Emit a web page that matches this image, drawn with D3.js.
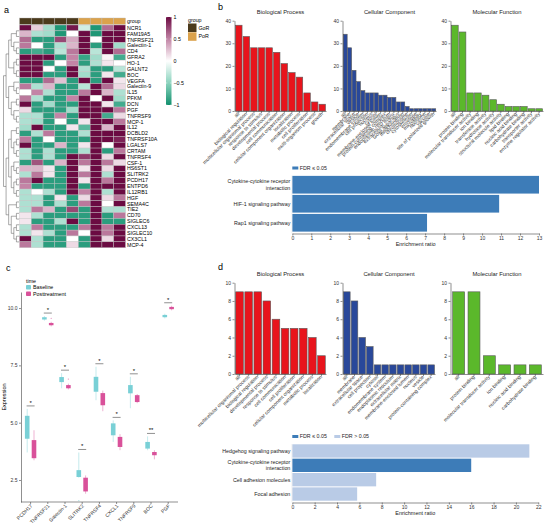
<!DOCTYPE html>
<html><head><meta charset="utf-8">
<script src="https://cdn.jsdelivr.net/npm/d3@7"></script>
<style>
body{margin:0;background:#fff}
svg{font-family:"Liberation Sans",Arial,sans-serif}
.ax path,.ax line{stroke:#444;stroke-width:0.6}
.ax text{fill:#333;font-size:5px}
</style></head><body>
<svg id="fig" width="546" height="530"></svg>
<script>
// ---------- panel a : heatmap
const genes = ["NCR1","FAM19A5","TNFRSF21","Galectin-1","CD4","GFRA2","HO-1","GALNT2","BOC","VEGFA",
  "Galectin-9","IL15","PFKM","DCN","PGF","TNFRSF9","MCP-1","IL12","DCBLD2","TNFRSF10A","LGALS7","CRTAM",
  "TNFRSF4","CSF-1","HS6ST1","SLITRK2","PCDH17","ENTPD6","IL12RB1","HGF","SEMA4C","TIE2","CD70",
  "SIGLEC6","CXCL13","SIGLEC10","CX3CL1","MCP-4"];
const groups = ["GoR","GoR","GoR","GoR","GoR","PoR","PoR","PoR","PoR"];
const heat = [
  [1,0.2,-0.4,-0.95,0.95,-0.2,-0.95,0.6,1],
  [0.3,-0.35,-0.4,-0.95,0,1,-0.95,1,1],
  [0.6,-0.9,-0.9,0.75,0.35,1,0,1,1],
  [0.55,0,-0.9,-0.35,0.3,1,-0.9,1,-0.4],
  [-0.9,-0.8,-0.9,-0.3,0.55,1,-0.3,1,0.6],
  [1,1,1,-0.9,0.5,-0.85,-0.4,0.05,-0.8],
  [1,1,-0.9,0,0.5,-0.9,-0.35,0.1,0],
  [1,1,0,-0.9,1,-0.35,-0.9,-0.9,-0.3],
  [1,1,-0.9,-0.9,1,-0.4,-0.9,0.1,-0.8],
  [-0.9,-0.9,0.6,0.25,-0.9,1,-0.9,1,0.1],
  [0.55,-0.35,0.3,-0.9,-0.9,-0.3,1,0.6,0.15],
  [0,0.5,-0.35,-0.9,-0.9,0.55,1,0.3,-0.35],
  [0.55,-0.35,-0.9,-0.9,0.5,1,0,1,-0.4],
  [1,-0.9,-0.4,-0.9,-0.9,1,1,0.1,-0.8],
  [0.15,-0.9,-0.9,-0.9,-0.4,1,1,1,0.55],
  [-0.35,-0.35,-0.9,0.5,-0.9,1,1,-0.8,0.15],
  [-0.35,-0.4,-0.9,0,-0.9,0.1,1,1,0.55],
  [-0.4,1,-0.9,-0.9,0.1,-0.7,1,0.3,1],
  [-0.9,-0.35,0.55,-0.9,-0.9,-0.35,1,1,1],
  [0.55,-0.9,0,-0.9,-0.9,-0.9,1,1,0.9],
  [1,-0.9,-0.9,0.3,-0.9,0.1,1,0,1],
  [-0.35,-0.9,-0.35,-0.9,-0.9,-0.35,1,-0.9,0.55],
  [-0.35,-0.9,-0.35,-0.9,1,0.8,1,0.15,1],
  [-0.9,0.7,-0.9,0.3,1,0.55,1,0.55,0.15],
  [0.3,0.3,0.1,-0.9,1,0.1,1,0.15,1],
  [-0.35,0.55,0.1,-0.9,1,0.55,1,-0.35,1],
  [0.55,1,-0.9,-0.9,1,0.1,1,0.55,1],
  [0.5,-0.9,-0.9,-0.9,1,-0.9,1,1,1],
  [-0.35,0,-0.35,-0.9,1,0.5,1,-0.35,1],
  [-0.35,-0.35,-0.9,0.1,-0.9,0.15,1,0.15,0.55],
  [-0.35,-0.35,-0.9,-0.35,-0.9,0.55,1,0,1],
  [-0.35,0.55,0.3,-0.9,0.75,-0.9,1,-0.35,-0.35],
  [0.1,-0.35,-0.9,-0.9,-0.9,-0.9,1,-0.9,0.55],
  [0.1,-0.9,-0.9,-0.35,1,-0.9,1,-0.9,-0.9],
  [-0.35,0.55,-0.9,-0.9,-0.9,0.55,1,0.55,1],
  [-0.35,0.1,-0.35,-0.9,0.55,0,1,0.55,1],
  [1,-0.35,-0.9,-0.9,0,-0.9,1,0.15,1],
  [0.55,-0.35,-0.9,-0.9,0.15,-0.9,1,1,1]
];
// row clustering (nested lists, leaves in row order)
const geneTree = [
  [
    [[["NCR1","FAM19A5"],["TNFRSF21",["Galectin-1","CD4"]]], [["GFRA2","HO-1"],["GALNT2","BOC"]]],
    [["VEGFA",["Galectin-9","IL15"]], [["PFKM","DCN"],["PGF",["TNFRSF9","MCP-1"]]]]
  ],
  [
    [[["IL12","DCBLD2"],[["TNFRSF10A","LGALS7"],["CRTAM","TNFRSF4"]]],
     [["CSF-1",["HS6ST1","SLITRK2"]],[["PCDH17","ENTPD6"],["IL12RB1","HGF"]]]],
    [["SEMA4C","TIE2"],[["CD70","SIGLEC6"],[["CXCL13","SIGLEC10"],["CX3CL1","MCP-4"]]]]
  ]
];
const groupNames = ["GoR","PoR"];
const groupColors = ["#4b3a1c","#dba24c"];
const heatTicks = [1,0.5,0,-0.5,-1];

// ---------- panel b : GO slim + KEGG
const bBpTerms = ["all","biological regulation","multicellular organismal process","response to stimulus",
  "developmental process","cell communication","cellular component organization","localization",
  "metabolic process","cell proliferation","multi-organism process","growth"];
const bBpCounts = [38,33,28,28,28,26,21,17,15,8,4,3];
const bCcTerms = ["all","membrane","extracellular space","vesicle","endomembrane system","cell projection",
  "nucleus","cytosol","membrane-enclosed lumen","protein-containing complex","endoplasmic reticulum",
  "extracellular matrix","Golgi apparatus","mitochondrion","chromosome","cytoskeleton","envelope",
  "microbody","ribosome","vacuole","site of polarized growth"];
const bCcCounts = [34,28,18,13,9,8,8,8,7,7,6,6,4,4,2,1,1,1,1,1,1];
const bMfTerms = ["all","protein binding","molecular transducer activity","ion binding","transferase activity",
  "hydrolase activity","structural molecule activity","lipid binding","nucleic acid binding",
  "carbohydrate binding","transporter activity","enzyme regulator activity"];
const bMfCounts = [38,35,8,8,7,5,3,2,2,2,1,1];
const bKegg = ["Cytokine-cytokine receptor\ninteraction","HIF-1 signaling pathway","Rap1 signaling pathway"];
const bKeggRatio = [13.0,10.9,7.1];
const bKeggSig = [true,true,true];

// ---------- panel c : boxplots
const cGenes = ["PCDH17","TNFRSF21","Galectin-1","SLITRK2","TNFRSF4","CXCL1","TNFRSF9","BOC","PGF"];
// [low whisker, q1, median, q3, high whisker]
const cBase = [[3.7,4.3,4.8,5.3,5.6],[9.45,9.5,9.55,9.6,9.65],[6.5,6.77,6.88,6.99,7.16],
  [2.6,2.63,2.8,2.93,3.7],[5.98,6.35,6.7,7.0,7.44],[4.16,4.45,4.7,4.97,5.1],
  [5.63,6.28,6.45,6.64,7.0],[3.8,3.87,4.0,4.16,4.4],[9.55,9.6,9.65,9.7,9.75]];
const cPost = [[3.36,3.45,3.9,4.24,4.67],[9.2,9.25,9.3,9.35,9.4],[6.45,6.5,6.55,6.64,6.7],
  [1.9,2.0,2.3,2.6,2.7],[5.5,5.76,6.0,6.29,6.4],[3.8,3.94,4.2,4.38,4.5],
  [5.85,5.9,6.0,6.2,6.25],[3.4,3.58,3.65,3.72,3.8],[9.9,9.95,10.0,10.05,10.1]];
const cOutBase = [[],[],[],[1.6],[],[],[],[],[]];
const cOutPost = [[],[9.55],[6.9],[],[],[],[],[],[]];
const cSig = ["*","*","*","*","*","*","*","**","*"];
const cTimes = ["Baseline","Posttreatment"];
const cColors = ["#79d0d6","#d9519a"];
const cTicks = [2.5,5.0,7.5,10.0];

// ---------- panel d : GO slim + KEGG
const dBpTerms = ["all","multicellular organismal process","biological regulation","developmental process",
  "response to stimulus","cell communication","cell proliferation","cellular component organization",
  "metabolic process","localization"];
const dBpCounts = [9,9,9,8,6,5,5,5,4,2];
const dCcTerms = ["all","membrane","extracellular space","cell projection","cytosol","endomembrane system",
  "endoplasmic reticulum","extracellular matrix","membrane-enclosed lumen","nucleus","vesicle",
  "protein-containing complex"];
const dCcCounts = [9,8,4,3,1,1,1,1,1,1,1,1];
const dMfTerms = ["all","protein binding","molecular transducer activity","ion binding","nucleic acid binding",
  "carbohydrate binding"];
const dMfCounts = [9,9,2,1,1,1];
const dKegg = ["Hedgehog signaling pathway","Cytokine-cytokine receptor\ninteraction","Cell adhesion molecules","Focal adhesion"];
const dKeggRatio = [21.2,16.0,7.5,5.8];
const dKeggSig = [false,true,false,false];

const svg = d3.select("#fig");

function panelLetter(t, x, y) {
  svg.append("text").attr("x", x).attr("y", y).attr("font-size", 9).text(t);
}

// ================= panel a
panelLetter("a", 4, 13);
const rowH = 5.86, hx0 = 19.5, hy0 = 25;
const hx = d3.scaleBand().domain(d3.range(groups.length)).range([hx0, 125.5]);
const hy = d3.scaleBand().domain(genes).range([hy0, hy0 + rowH * genes.length]);
const heatColor = d3.scaleLinear().domain([-1, -0.5, 0, 0.5, 1])
  .range(["#13906e", "#8bd3be", "#ffffff", "#c384a6", "#6b0b42"]).clamp(true);

const ga = svg.append("g");
ga.selectAll("rect.grp").data(groups).join("rect")
  .attr("x", (d, i) => hx(i)).attr("y", 18).attr("width", hx.bandwidth()).attr("height", 6.5)
  .attr("fill", d => groupColors[groupNames.indexOf(d)]).attr("stroke", "#bbb").attr("stroke-width", 0.4);
ga.append("text").attr("x", 127).attr("y", 23.3).attr("font-size", 5.3).text("group");

const cells = genes.flatMap((g, i) => heat[i].map((v, j) => ({ g, j, v })));
ga.selectAll("rect.cell").data(cells).join("rect")
  .attr("x", d => hx(d.j)).attr("y", d => hy(d.g))
  .attr("width", hx.bandwidth()).attr("height", hy.bandwidth())
  .attr("fill", d => heatColor(d.v)).attr("stroke", "#c4c4c4").attr("stroke-width", 0.4);
ga.selectAll("text.gene").data(genes).join("text")
  .attr("x", 127).attr("y", d => hy(d) + hy.bandwidth() / 2).attr("dy", "0.35em")
  .attr("font-size", 5.3).text(d => d);

// dendrogram
const root = d3.hierarchy(geneTree, d => Array.isArray(d) ? d : null);
d3.cluster().size([rowH * (genes.length - 1), 15.5]).separation(() => 1)(root);
const dg = ga.append("g").attr("transform", `translate(3.5,${hy0 + rowH / 2})`);
dg.selectAll("path").data(root.links()).join("path")
  .attr("d", l => `M${l.source.y},${l.source.x}V${l.target.x}H${l.target.y}`)
  .attr("fill", "none").attr("stroke", "#555").attr("stroke-width", 0.5);

// colour bar
const cbY = d3.scaleLinear().domain([1, -1]).range([17, 105]);
const defs = svg.append("defs");
const lg = defs.append("linearGradient").attr("id", "hmgrad").attr("x1", 0).attr("x2", 0).attr("y1", 0).attr("y2", 1);
d3.range(0, 1.001, 0.1).forEach(t => lg.append("stop").attr("offset", t).attr("stop-color", heatColor(1 - 2 * t)));
ga.append("rect").attr("x", 166).attr("y", 17).attr("width", 5.5).attr("height", 88).attr("fill", "url(#hmgrad)");
ga.selectAll("line.cbt").data(heatTicks).join("line")
  .attr("x1", 166).attr("x2", 167.3).attr("y1", d => cbY(d)).attr("y2", d => cbY(d)).attr("stroke", "#fff").attr("stroke-width", 0.5);
ga.selectAll("line.cbt2").data(heatTicks).join("line")
  .attr("x1", 170.2).attr("x2", 171.5).attr("y1", d => cbY(d)).attr("y2", d => cbY(d)).attr("stroke", "#fff").attr("stroke-width", 0.5);
ga.selectAll("text.cbl").data(heatTicks).join("text")
  .attr("x", 173.5).attr("y", d => cbY(d)).attr("dy", "0.35em").attr("font-size", 5.3)
  .text(d => d3.format("")(d).replace("-", "\u2212"));
// group legend
ga.append("text").attr("x", 188).attr("y", 22).attr("font-size", 5.3).text("group");
groupNames.forEach((g, i) => {
  ga.append("rect").attr("x", 188).attr("y", 23.5 + i * 8.8).attr("width", 8.5).attr("height", 8.5).attr("fill", groupColors[i]);
  ga.append("text").attr("x", 198.5).attr("y", 27.8 + i * 8.8).attr("dy", "0.35em").attr("font-size", 5.3).text(g);
});

// ================= GO bar chart helper
function goChart(o) {
  const g = svg.append("g");
  const x = d3.scaleBand().domain(o.terms).range([o.x0, o.x1]).paddingInner(o.pad).paddingOuter(o.pad / 2);
  const y = d3.scaleLinear().domain([0, o.max]).range([o.yBot, o.yTop]);
  g.selectAll("rect").data(o.terms).join("rect")
    .attr("x", d => x(d)).attr("width", x.bandwidth())
    .attr("y", (d, i) => y(o.counts[i])).attr("height", (d, i) => o.yBot - y(o.counts[i]))
    .attr("fill", o.fill).attr("stroke", "#5a5a5a").attr("stroke-width", 0.6);
  g.append("g").attr("class", "ax").attr("transform", `translate(${o.x0 - 0.5},0)`)
    .call(d3.axisLeft(y).tickValues(o.ticks).tickSize(2).tickPadding(1.5).tickSizeOuter(0));
  const xa = g.append("g").attr("class", "ax").attr("transform", `translate(0,${o.yBot})`)
    .call(d3.axisBottom(x).tickSize(2).tickSizeOuter(0));
  xa.selectAll("text").attr("x", -1.5).attr("y", 3).attr("dy", 0).attr("font-size", 4.6)
    .attr("transform", "rotate(-45)").style("text-anchor", "end");
  g.append("text").attr("x", (o.x0 + o.x1) / 2).attr("y", o.yTop - 7).attr("text-anchor", "middle")
    .attr("font-size", 5.8).attr("fill", "#222").text(o.title);
}

function keggChart(o) {
  const g = svg.append("g");
  const x = d3.scaleLinear().domain([0, o.max]).range([o.x0, o.x1]);
  const y = d3.scaleBand().domain(o.terms).range([o.yTop, o.yBot]).paddingInner(0.07).paddingOuter(0.02);
  g.selectAll("rect").data(o.terms).join("rect")
    .attr("x", x(0)).attr("y", d => y(d)).attr("height", y.bandwidth())
    .attr("width", (d, i) => x(o.ratio[i]) - x(0))
    .attr("fill", (d, i) => o.sig[i] ? "#3d7cb8" : "#b9cbe6");
  g.append("g").attr("class", "ax").attr("transform", `translate(0,${o.yBot + 1.5})`)
    .call(d3.axisBottom(x).tickValues(d3.range(0, o.max + 0.01, o.step)).tickSize(2).tickPadding(1).tickSizeOuter(0))
    .selectAll("text").attr("font-size", 5.3);
  g.append("line").attr("x1", o.x0 - 0.5).attr("x2", o.x0 - 0.5).attr("y1", o.yTop).attr("y2", o.yBot + 1.5)
    .attr("stroke", "#e4e4e4").attr("stroke-width", 0.5);
  o.terms.forEach(t => {
    const lines = t.split("\n");
    const tx = g.append("text").attr("x", o.x0 - 2).attr("text-anchor", "end").attr("font-size", 5.3).attr("fill", "#222")
      .attr("y", y(t) + y.bandwidth() / 2 - (lines.length - 1) * 3.2);
    lines.forEach((l, k) => tx.append("tspan").attr("x", o.x0 - 2).attr("dy", k ? "1.2em" : "0.35em").text(l));
  });
  g.append("text").attr("x", (o.x0 + o.x1) / 2).attr("y", o.yBot + 14).attr("text-anchor", "middle")
    .attr("font-size", 5.5).attr("fill", "#222").text("Enrichment ratio");
  const legend = [["FDR \u2264 0.05", "#3d7cb8"], ["FDR > 0.05", "#b9cbe6"]].slice(0, o.legendN);
  legend.forEach((l, i) => {
    g.append("rect").attr("x", o.x0 + i * 42).attr("y", o.yTop - 9).attr("width", 6).attr("height", 3).attr("fill", l[1]);
    g.append("text").attr("x", o.x0 + 7.5 + i * 42).attr("y", o.yTop - 7.5).attr("dy", "0.35em")
      .attr("font-size", 5.3).attr("fill", "#222").text(l[0]);
  });
}

// ================= panel b
panelLetter("b", 218, 10);
goChart({ terms: bBpTerms, counts: bBpCounts, x0: 235, x1: 326, yTop: 20.7, yBot: 111, max: 40, ticks: [0,10,20,30,40], fill: "#e8141c", pad: 0.14, title: "Biological Process" });
goChart({ terms: bCcTerms, counts: bCcCounts, x0: 343, x1: 436, yTop: 20.7, yBot: 111, max: 40, ticks: [0,10,20,30,40], fill: "#29489a", pad: 0.12, title: "Cellular Component" });
goChart({ terms: bMfTerms, counts: bMfCounts, x0: 451, x1: 543, yTop: 20.7, yBot: 111, max: 40, ticks: [0,10,20,30,40], fill: "#5bb82b", pad: 0.12, title: "Molecular Function" });
keggChart({ terms: bKegg, ratio: bKeggRatio, sig: bKeggSig, x0: 292.3, x1: 539, max: 13, step: 1, yTop: 175.5, yBot: 232, legendN: 1 });

// ================= panel c
panelLetter("c", 6, 271);
const gc = svg.append("g");
const cx = d3.scaleBand().domain(cGenes).range([22, 176.8]);
const cy = d3.scaleLinear().domain([1.54, 10.7]).range([502, 292]);
gc.append("g").attr("class", "ax").attr("transform", "translate(21,0)")
  .call(d3.axisLeft(cy).tickValues(cTicks).tickFormat(d3.format(".1f")).tickSize(2).tickPadding(1.5).tickSizeOuter(0));
const cxa = gc.append("g").attr("class", "ax").attr("transform", "translate(0,502)")
  .call(d3.axisBottom(cx).tickSize(2).tickSizeOuter(0));
cxa.select(".domain").attr("d", "M21,0H178");
cxa.selectAll("text").attr("x", -1.5).attr("y", 3).attr("dy", "0.3em").attr("font-size", 5.3)
  .attr("transform", "rotate(-45)").style("text-anchor", "end");
gc.append("text").attr("transform", "translate(6,397) rotate(-90)").attr("text-anchor", "middle")
  .attr("font-size", 5.5).text("Expression");
const dodge = 3.4, bw = 4.6;
[[cBase, cOutBase], [cPost, cOutPost]].forEach(([stats, outs], k) => {
  const xs = d => cx(d) + cx.bandwidth() / 2 + (k ? dodge : -dodge);
  gc.selectAll(null).data(cGenes).join("line")
    .attr("x1", xs).attr("x2", xs)
    .attr("y1", (d, i) => cy(stats[i][4])).attr("y2", (d, i) => cy(stats[i][0]))
    .attr("stroke", cColors[k]).attr("stroke-opacity", 0.55).attr("stroke-width", 0.8);
  gc.selectAll(null).data(cGenes).join("rect")
    .attr("x", d => xs(d) - bw / 2).attr("width", bw)
    .attr("y", (d, i) => cy(stats[i][3])).attr("height", (d, i) => Math.max(1, cy(stats[i][1]) - cy(stats[i][3])))
    .attr("fill", cColors[k]);
  const pts = cGenes.flatMap((d, i) => outs[i].map(v => ({ d, v })));
  gc.selectAll(null).data(pts).join("circle")
    .attr("cx", p => xs(p.d)).attr("cy", p => cy(p.v)).attr("r", 0.7)
    .attr("fill", cColors[k]).attr("fill-opacity", 0.6);
});
cGenes.forEach((gname, i) => {
  const top = cy(Math.max(cBase[i][4], cPost[i][4], ...cOutBase[i], ...cOutPost[i])) - 3;
  const xm = cx(gname) + cx.bandwidth() / 2;
  gc.append("line").attr("x1", xm - 4).attr("x2", xm + 4).attr("y1", top).attr("y2", top)
    .attr("stroke", "#222").attr("stroke-width", 0.5);
  gc.append("text").attr("x", xm).attr("y", top - 1).attr("text-anchor", "middle").attr("font-size", 6).text(cSig[i]);
});
gc.append("text").attr("x", 26).attr("y", 283).attr("font-size", 5.3).text("time");
cTimes.forEach((t, i) => {
  gc.append("rect").attr("x", 26).attr("y", 285 + i * 6.5).attr("width", 5).attr("height", 4.5).attr("rx", 0.8).attr("fill", cColors[i]);
  gc.append("text").attr("x", 33).attr("y", 287.3 + i * 6.5).attr("dy", "0.35em").attr("font-size", 5.3).text(t);
});

// ================= panel d
panelLetter("d", 218, 270);
goChart({ terms: dBpTerms, counts: dBpCounts, x0: 235, x1: 326, yTop: 282.7, yBot: 374, max: 10, ticks: [0,2,4,6,8,10], fill: "#e8141c", pad: 0.16, title: "Biological Process" });
goChart({ terms: dCcTerms, counts: dCcCounts, x0: 343, x1: 435, yTop: 282.7, yBot: 374, max: 10, ticks: [0,2,4,6,8,10], fill: "#29489a", pad: 0.14, title: "Cellular Component" });
goChart({ terms: dMfTerms, counts: dMfCounts, x0: 451, x1: 543, yTop: 282.7, yBot: 374, max: 10, ticks: [0,2,4,6,8,10], fill: "#5bb82b", pad: 0.22, title: "Molecular Function" });
keggChart({ terms: dKegg, ratio: dKeggRatio, sig: dKeggSig, x0: 292.3, x1: 538.3, max: 22, step: 2, yTop: 444, yBot: 501, legendN: 2 });
</script></body></html>
